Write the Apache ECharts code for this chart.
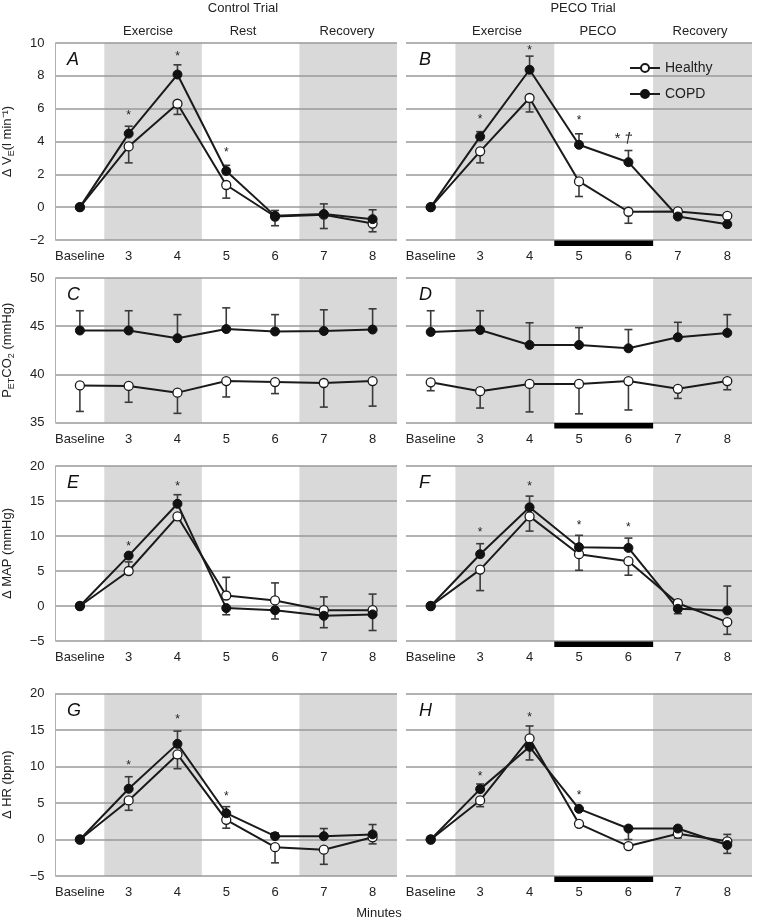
<!DOCTYPE html>
<html><head><meta charset="utf-8">
<script src="https://cdn.jsdelivr.net/npm/echarts@6/dist/echarts.min.js"></script>
<style>html,body{margin:0;padding:0;background:#fff}#c{width:758px;height:923px}</style>
</head><body><div id="c"></div><script>
const categories = ['Baseline','3','4','5','6','7','8'];

// Panel A: delta VE
const aHealthy    = [0, 3.7, 6.3, 1.35, -0.57, -0.46, -1.0];
const aHealthyErr = [null, 2.7, 5.65, 0.55, -1.13, -1.3, -1.5];
const aCopd       = [0, 4.48, 8.08, 2.2, -0.53, -0.42, -0.73];
const aCopdErr    = [null, 4.93, 8.67, 2.55, -0.2, 0.2, -0.16];
const aStars      = [[1, 5.7, '*'], [2, 9.3, '*'], [3, 3.5, '*']];
// Panel B
const bHealthy    = [0, 3.4, 6.65, 1.57, -0.28, -0.26, -0.53];
const bHealthyErr = [null, 2.7, 5.8, 0.65, -0.98, null, null];
const bCopd       = [0, 4.3, 8.37, 3.8, 2.74, -0.57, -1.04];
const bCopdErr    = [null, 4.6, 9.2, 4.47, 3.45, null, null];
const bStars      = [[1, 5.5, '*'], [2, 9.7, '*'], [3, 5.4, '*'], [4, 4.3, '* \u2020']];
// Panel C: PETCO2
const cHealthy    = [38.85, 38.8, 38.1, 39.3, 39.2, 39.1, 39.3];
const cHealthyErr = [36.15, 37.1, 35.95, 37.65, 38.0, 36.6, 36.7];
const cCopd       = [44.55, 44.55, 43.75, 44.7, 44.45, 44.5, 44.65];
const cCopdErr    = [46.6, 46.6, 46.2, 46.9, 46.2, 46.7, 46.8];
const cStars      = [];
// Panel D
const dHealthy    = [39.17, 38.25, 39.0, 39.0, 39.3, 38.5, 39.3];
const dHealthyErr = [38.3, 36.5, 36.1, 35.9, 36.3, 37.5, 38.4];
const dCopd       = [44.4, 44.6, 43.05, 43.05, 42.7, 43.85, 44.3];
const dCopdErr    = [46.6, 46.6, 45.35, 44.85, 44.65, 45.4, 46.2];
const dStars      = [];
// Panel E: delta MAP
const eHealthy    = [0, 5.0, 12.8, 1.5, 0.8, -0.6, -0.6];
const eHealthyErr = [null, 6.3, 12.3, 4.1, 3.3, 1.3, 1.7];
const eCopd       = [0, 7.2, 14.6, -0.3, -0.6, -1.4, -1.2];
const eCopdErr    = [null, null, 15.9, -1.25, -1.85, -3.1, -3.5];
const eStars      = [[1, 8.8, '*'], [2, 17.4, '*']];
// Panel F
const fHealthy    = [0, 5.2, 12.8, 7.4, 6.4, 0.4, -2.3];
const fHealthyErr = [null, 2.2, 10.7, 5.1, 4.4, 0.8, -4.05];
const fCopd       = [0, 7.4, 14.1, 8.4, 8.3, -0.4, -0.65];
const fCopdErr    = [null, 8.9, 15.7, 10.1, 9.7, -1.1, 2.85];
const fStars      = [[1, 10.8, '*'], [2, 17.4, '*'], [3, 11.9, '*'], [4, 11.5, '*']];
// Panel G: delta HR
const gHealthy    = [0, 5.35, 11.65, 2.7, -1.05, -1.4, 0.3];
const gHealthyErr = [null, 4.0, 9.7, 1.55, -3.2, -3.4, -0.6];
const gCopd       = [0, 6.95, 13.1, 3.6, 0.45, 0.45, 0.7];
const gCopdErr    = [null, 8.6, 14.85, 4.5, 0.9, 1.5, 2.05];
const gStars      = [[1, 10.5, '*'], [2, 16.7, '*'], [3, 6.2, '*']];
// Panel H
const hHealthy    = [0, 5.35, 13.85, 2.15, -0.9, 0.8, -0.25];
const hHealthyErr = [null, 4.5, 15.55, null, null, 0.2, 0.7];
const hCopd       = [0, 6.9, 12.7, 4.2, 1.5, 1.5, -0.75];
const hCopdErr    = [null, 7.6, 10.9, null, 0, null, -1.9];
const hStars      = [[1, 8.9, '*'], [2, 17.0, '*'], [3, 6.4, '*']];

const yRanges = [[-2, 10, 2], [35, 50, 5], [-5, 20, 5], [-5, 20, 5]];
const shadeBands = [[1, 2], [5, 6]];
const pecoBand = [3, 4];

const FONT = 'Liberation Sans, Arial, Helvetica, sans-serif';
const panels = [
  {L:'A', row:0, col:0, h:aHealthy, he:aHealthyErr, c:aCopd, ce:aCopdErr, s:aStars},
  {L:'B', row:0, col:1, h:bHealthy, he:bHealthyErr, c:bCopd, ce:bCopdErr, s:bStars},
  {L:'C', row:1, col:0, h:cHealthy, he:cHealthyErr, c:cCopd, ce:cCopdErr, s:cStars},
  {L:'D', row:1, col:1, h:dHealthy, he:dHealthyErr, c:dCopd, ce:dCopdErr, s:dStars},
  {L:'E', row:2, col:0, h:eHealthy, he:eHealthyErr, c:eCopd, ce:eCopdErr, s:eStars},
  {L:'F', row:2, col:1, h:fHealthy, he:fHealthyErr, c:fCopd, ce:fCopdErr, s:fStars},
  {L:'G', row:3, col:0, h:gHealthy, he:gHealthyErr, c:gCopd, ce:gCopdErr, s:gStars},
  {L:'H', row:3, col:1, h:hHealthy, he:hHealthyErr, c:hCopd, ce:hCopdErr, s:hStars}
];
const rows = [{top:43, h:197}, {top:278, h:144.5}, {top:466, h:175}, {top:693.5, h:182.5}];
const cols = [{left:54, w:343}, {left:406, w:346}];
const yNames = [
  '{n|\u0394 V}{s|E}{n|(l min\u207B\u00B9)}',
  '{n|P}{s|ET}{n|CO}{s|2}{n| (mmHg)}',
  '{n|\u0394 MAP (mmHg)}',
  '{n|\u0394 HR (bpm)}'
];

const grid = [], xAxis = [], yAxis = [], series = [], graphic = [];
panels.forEach((p, i) => {
  const r = rows[p.row], c = cols[p.col], yr = yRanges[p.row];
  const left = p.col === 0;
  grid.push({left: c.left, top: r.top, width: c.w, height: r.h});
  xAxis.push({type:'category', gridIndex:i, data:categories, boundaryGap:true,
    axisLine:{show:false}, axisTick:{show:false}, splitLine:{show:false},
    axisLabel:{interval:0, hideOverlap:false, fontSize:13, color:'#222', margin:10, fontFamily:FONT}});
  yAxis.push({type:'value', gridIndex:i, min:yr[0], max:yr[1], interval:yr[2],
    axisLine:{show:left, lineStyle:{color:'#b0b0b0', width:1}}, axisTick:{show:false},
    axisLabel:{show:left, fontSize:13, color:'#222', margin:11, fontFamily:FONT,
      formatter: v => String(v).replace('-', '\u2212')},
    splitLine:{show:true, lineStyle:{color:'#999', width:1.5}},
    name: left ? yNames[p.row] : '', nameLocation:'middle', nameRotate:90, nameGap:39,
    nameTextStyle:{rich:{
      n:{fontSize:13, lineHeight:18, color:'#222', fontFamily:FONT},
      s:{fontSize:9, lineHeight:9, verticalAlign:'bottom', color:'#222', fontFamily:FONT}}}});
  const isRight = p.col === 1;
  series.push({type:'custom', xAxisIndex:i, yAxisIndex:i, z:-1, silent:true, clip:false,
    data:[[0, yr[0]]],
    renderItem:(params, api) => {
      const cs = params.coordSys;
      const bw = api.size([1, 0])[0];
      const ch = shadeBands.map(b => {
        const x0 = api.coord([b[0], yr[0]])[0] - bw/2, x1 = api.coord([b[1], yr[0]])[0] + bw/2;
        return {type:'rect', shape:{x:x0, y:cs.y, width:x1-x0, height:cs.height}, style:{fill:'#d9d9d9'}};
      });
      return {type:'group', children:ch};
    }});
  if (isRight) {
    series.push({type:'custom', xAxisIndex:i, yAxisIndex:i, z:5, silent:true, clip:false,
      data:[[0, yr[0]]],
      renderItem:(params, api) => {
        const cs = params.coordSys;
        const bw = api.size([1, 0])[0];
        const x0 = api.coord([pecoBand[0], yr[0]])[0] - bw/2, x1 = api.coord([pecoBand[1], yr[0]])[0] + bw/2;
        return {type:'rect', shape:{x:x0, y:cs.y+cs.height+0.5, width:x1-x0, height:5.5}, style:{fill:'#000'}};
      }});
  }
  const errData = [];
  [[p.h, p.he], [p.c, p.ce]].forEach(([v, e]) => {
    v.forEach((val, k) => { if (e[k] !== null && e[k] !== undefined) errData.push([k, val, e[k]]); });
  });
  series.push({type:'custom', xAxisIndex:i, yAxisIndex:i, z:1, silent:true, data:errData,
    encode:{x:0, y:[1, 2]},
    renderItem:(params, api) => {
      const a = api.coord([api.value(0), api.value(1)]);
      const b = api.coord([api.value(0), api.value(2)]);
      const st = {stroke:'#3a3a3a', lineWidth:1.6};
      return {type:'group', children:[
        {type:'line', shape:{x1:a[0], y1:a[1], x2:b[0], y2:b[1]}, style:st},
        {type:'line', shape:{x1:b[0]-4, y1:b[1], x2:b[0]+4, y2:b[1]}, style:st}]};
    }});
  const lineCommon = {type:'line', xAxisIndex:i, yAxisIndex:i, z:3, symbol:'circle', symbolSize:9,
    animation:false, emphasis:{disabled:true}, lineStyle:{color:'#1a1a1a', width:2}};
  series.push(Object.assign({}, lineCommon, {name:'Healthy', data:p.h,
    itemStyle:{color:'#fff', borderColor:'#1a1a1a', borderWidth:1.3}}));
  series.push(Object.assign({}, lineCommon, {name:'COPD', data:p.c,
    itemStyle:{color:'#111', borderColor:'#111', borderWidth:1}}));
  if (p.s.length) {
    series.push({type:'custom', xAxisIndex:i, yAxisIndex:i, z:4, silent:true, data:p.s,
      renderItem:(params, api) => {
        const d = p.s[params.dataIndex];
        const pt = api.coord([d[0], d[1]]);
        const multi = d[2].length > 1;
        return {type:'text', x: multi ? pt[0] + 4 : pt[0], y: pt[1] + 2.5,
          style:{text:d[2], fontSize: multi ? 15 : 12, fontFamily:FONT, fontStyle: multi ? 'italic' : 'normal',
            fill:'#222', align: multi ? 'right' : 'center', verticalAlign:'middle'}};
      }});
  }
  graphic.push({type:'text', left: c.left + 13, top: r.top + 8,
    style:{text:p.L, fontSize:18, fontStyle:'italic', fontFamily:FONT, fill:'#111'}});
});

const headers = [
  ['Control Trial', 243, 8], ['PECO Trial', 583, 8],
  ['Exercise', 148, 31], ['Rest', 243, 31], ['Recovery', 347, 31],
  ['Exercise', 497, 31], ['PECO', 598, 31], ['Recovery', 700, 31],
  ['Minutes', 379, 913]
];
headers.forEach(h => graphic.push({type:'text', x:h[1], y:h[2],
  style:{text:h[0], fontSize:13, fontFamily:FONT, fill:'#222', align:'center', verticalAlign:'middle'}}));

const chart = echarts.init(document.getElementById('c'));
chart.setOption({
  animation:false,
  backgroundColor:'#fff',
  grid, xAxis, yAxis, series, graphic,
  legend:{data:['Healthy', 'COPD'], left:624, top:56, orient:'vertical', itemWidth:30, itemHeight:10,
    itemGap:12, selectedMode:false, textStyle:{fontSize:14, color:'#222', fontFamily:FONT}}
});
</script></body></html>
